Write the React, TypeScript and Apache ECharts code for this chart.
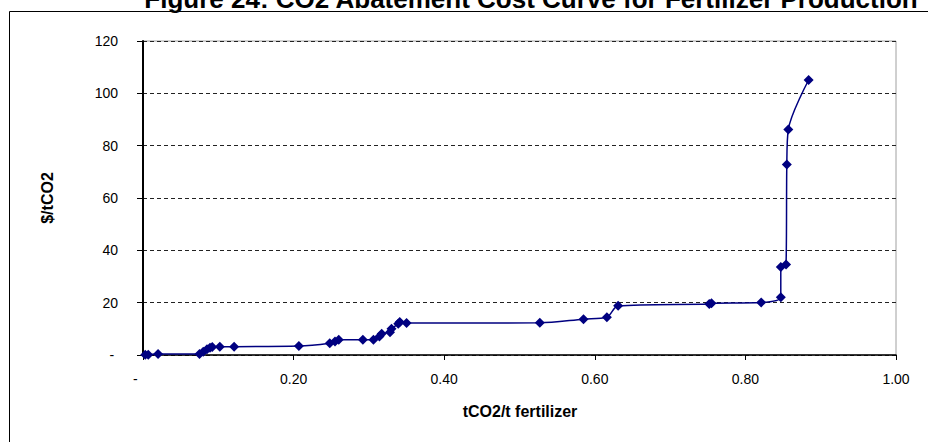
import React, { useEffect, useRef } from "react";
import * as echarts from "echarts";

const titleText = "Figure 24: CO2 Abatement Cost Curve for Fertilizer Production";
const xAxisTitle = "tCO2/t fertilizer";
const yAxisTitle = "$/tCO2";

// Abatement potential (tCO2/t fertilizer), cumulative
const abatement: number[] = [
  0.003, 0.007, 0.02, 0.075, 0.08, 0.085, 0.089, 0.092, 0.102, 0.121,
  0.207, 0.248, 0.255, 0.26, 0.292, 0.306, 0.314, 0.317, 0.328, 0.33,
  0.339, 0.341, 0.35, 0.527, 0.585, 0.616, 0.631, 0.752, 0.755, 0.821,
  0.847, 0.847, 0.854, 0.855, 0.857, 0.884,
];
// Cost ($/tCO2)
const cost: number[] = [
  0.1, 0.1, 0.4, 0.4, 1.2, 2.2, 2.8, 3.1, 3.2, 3.2,
  3.4, 4.5, 5.2, 5.8, 5.8, 5.8, 7.1, 8.1, 8.7, 10.0,
  11.9, 12.6, 12.2, 12.3, 13.7, 14.4, 18.8, 19.5, 19.8, 20.1,
  22.1, 33.6, 34.6, 72.8, 86.2, 105.1,
];

const xTicks = { min: 0, max: 1, interval: 0.2 };
const yTicks = { min: 0, max: 120, interval: 20 };

const FONT = "'Liberation Sans', Arial, sans-serif";

export default function App() {
  const ref = useRef<HTMLDivElement>(null);
  useEffect(() => {
    if (!ref.current) return;
    const chart = echarts.init(ref.current, undefined, { renderer: "svg" });
    const data = abatement.map((x, i) => [x, cost[i]]);
    chart.setOption({
      animation: false,
      backgroundColor: "#ffffff",
      textStyle: { fontFamily: FONT },
      grid: {
        left: 143,
        right: 32,
        top: 41,
        bottom: 87,
        containLabel: false,
        show: true,
        borderColor: "#a0a0a0",
        borderWidth: 1,
      },
      graphic: [
        {
          type: "rect",
          shape: { x: 9.5, y: 11.5, width: 1000, height: 1000 },
          style: { fill: "none", stroke: "#000000", lineWidth: 1 },
          silent: true,
          z: -1,
        },
        {
          type: "text",
          x: 531,
          y: -1,
          style: {
            text: titleText,
            font: `bold 26px ${FONT}`,
            fill: "#000000",
            textAlign: "center",
            textVerticalAlign: "middle",
          },
        },
        {
          type: "text",
          x: 520,
          y: 411,
          style: {
            text: xAxisTitle,
            font: `bold 16px ${FONT}`,
            fill: "#000000",
            textAlign: "center",
            textVerticalAlign: "middle",
          },
        },
        {
          type: "text",
          x: 47,
          y: 198,
          rotation: Math.PI / 2,
          style: {
            text: yAxisTitle,
            font: `bold 16px ${FONT}`,
            fill: "#000000",
            textAlign: "center",
            textVerticalAlign: "middle",
          },
        },
      ],
      xAxis: {
        type: "value",
        min: xTicks.min,
        max: xTicks.max,
        interval: xTicks.interval,
        axisLine: { show: true, onZero: false, lineStyle: { color: "#000000", width: 1.5 } },
        axisTick: { show: true, inside: false, length: 5, lineStyle: { color: "#000000" } },
        splitLine: { show: false },
        axisLabel: {
          margin: 17,
          fontSize: 14,
          color: "#000000",
          fontFamily: FONT,
          formatter: (v: number) => (v === 0 ? "-    " : v.toFixed(2)),
        },
      },
      yAxis: {
        type: "value",
        min: yTicks.min,
        max: yTicks.max,
        interval: yTicks.interval,
        axisLine: { show: true, lineStyle: { color: "#000000", width: 2 } },
        axisTick: { show: true, inside: false, length: 6, lineStyle: { color: "#000000" } },
        splitLine: {
          show: true,
          lineStyle: { color: "#222222", type: [4, 3], width: 1 },
        },
        axisLabel: {
          margin: 25,
          fontSize: 14,
          color: "#000000",
          fontFamily: FONT,
          formatter: (v: number) => (v === 0 ? "- " : String(v)),
        },
      },
      series: [
        {
          type: "line",
          data,
          smooth: 0.3,
          symbol: "diamond",
          symbolSize: [10, 10],
          showSymbol: true,
          lineStyle: { color: "#000080", width: 1.5 },
          itemStyle: { color: "#000080" },
        },
      ],
    });
    return () => chart.dispose();
  }, []);
  return (
    <div
      ref={ref}
      style={{ position: "fixed", left: 0, top: 0, width: 928, height: 442, background: "#fff" }}
    />
  );
}
